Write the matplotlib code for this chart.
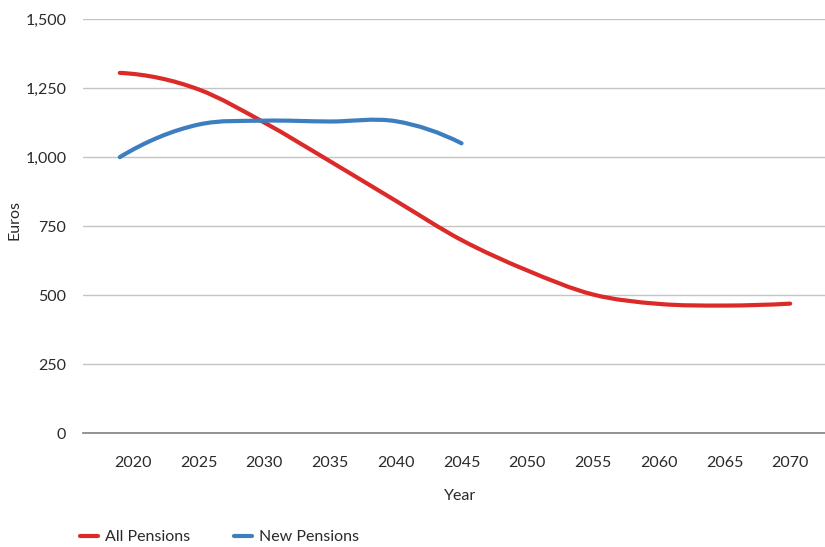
import matplotlib
matplotlib.use("Agg")
import matplotlib.pyplot as plt
import numpy as np
from matplotlib.path import Path
from matplotlib.patches import PathPatch
from matplotlib.lines import Line2D

plt.rcParams["font.family"] = ["Lato", "DejaVu Sans"]

# Average pension amounts (euros)
years_all = [2019, 2025, 2030, 2035, 2040, 2045, 2050, 2055, 2060, 2065, 2070]
all_pensions = [1305, 1245, 1125, 985, 842, 700, 590, 503, 469, 463, 470]

years_new = [2019, 2025, 2030, 2035, 2040, 2045]
new_pensions = [1000, 1118, 1132, 1129, 1130, 1050]

x_ticks = [2020, 2025, 2030, 2035, 2040, 2045, 2050, 2055, 2060, 2065, 2070]
y_ticks = [0, 250, 500, 750, 1000, 1250, 1500]

RED = "#dc2a29"
BLUE = "#3c7ebf"
TEXT = "#2a2a2a"
FS = 11.5


def smooth_path(xs, ys):
    """Cubic Hermite curve through the points, tangents from local parabolas."""
    x = np.asarray(xs, float)
    y = np.asarray(ys, float)
    n = len(x)
    h = np.diff(x)
    d = np.diff(y) / h
    m = np.zeros(n)
    for i in range(1, n - 1):
        m[i] = (d[i - 1] * h[i] + d[i] * h[i - 1]) / (h[i - 1] + h[i])
    c0 = (d[1] - d[0]) / (h[0] + h[1])
    m[0] = d[0] - c0 * h[0]
    c1 = (d[-1] - d[-2]) / (h[-2] + h[-1])
    m[-1] = d[-1] + c1 * h[-1]
    verts = [(x[0], y[0])]
    codes = [Path.MOVETO]
    for i in range(n - 1):
        t = h[i] / 3.0
        verts += [(x[i] + t, y[i] + m[i] * t),
                  (x[i + 1] - t, y[i + 1] - m[i + 1] * t),
                  (x[i + 1], y[i + 1])]
        codes += [Path.CURVE4] * 3
    return Path(verts, codes)


fig = plt.figure(figsize=(8.25, 5.47), dpi=100)
ax = fig.add_axes([0.1006, 0.2075, 0.8994, 0.7578])

for xs, ys, col in [(years_all, all_pensions, RED), (years_new, new_pensions, BLUE)]:
    patch = PathPatch(smooth_path(xs, ys), facecolor="none", edgecolor=col,
                      lw=3.0, capstyle="round", joinstyle="round", zorder=3)
    ax.add_patch(patch)

ax.set_xlim(2016.2, 2072.65)
ax.set_ylim(0, 1500)
ax.set_xticks(x_ticks)
ax.set_xticklabels([str(y) for y in x_ticks])
ax.set_yticks(y_ticks)
ax.set_yticklabels([f"{v:,}" for v in y_ticks])

ax.grid(axis="y", color="#c4c4c4", lw=1.0)
ax.set_axisbelow(True)
for s in ["top", "right", "left"]:
    ax.spines[s].set_visible(False)
ax.spines["bottom"].set_color("#808080")
ax.spines["bottom"].set_linewidth(1.2)
ax.tick_params(axis="both", length=0, labelsize=FS, colors=TEXT)
ax.tick_params(axis="y", pad=12)
ax.tick_params(axis="x", pad=16)

ax.set_xlabel("Year", fontsize=FS, color=TEXT)
ax.xaxis.set_label_coords((460 - 83) / 742, -(496 - 433.5) / 414.5)
ax.xaxis.label.set_va("center")
ax.set_ylabel("Euros", fontsize=FS, color=TEXT)
ax.yaxis.set_label_coords(-(83 - 15) / 742, (433.5 - 220) / 414.5)
ax.yaxis.label.set_va("center")

handles = [Line2D([], [], color=RED, lw=3.0, solid_capstyle="round"),
           Line2D([], [], color=BLUE, lw=3.0, solid_capstyle="round")]
fig.legend(handles, ["All Pensions", "New Pensions"], loc="center left",
           bbox_to_anchor=(80 / 825, 1 - 537 / 547), ncol=2, frameon=False,
           fontsize=FS, handlelength=1.15, handletextpad=0.4, borderpad=0,
           borderaxespad=0, columnspacing=2.75, labelcolor=TEXT)

fig.savefig("out.png", dpi=100)
